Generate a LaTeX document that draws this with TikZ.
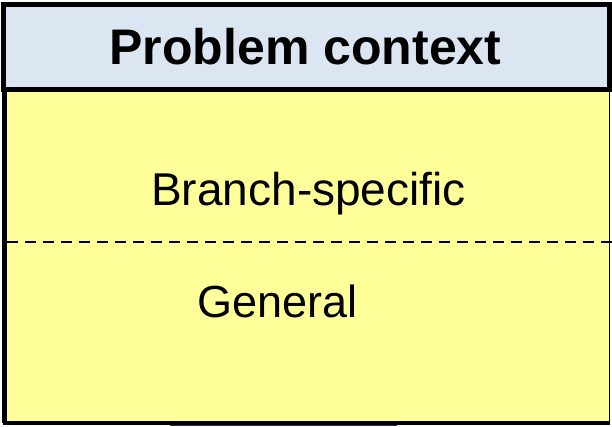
\documentclass[tikz,border=0pt]{standalone}
\usepackage{fontspec}
\setmainfont{Liberation Sans}
\begin{document}
\begin{tikzpicture}[x=1pt,y=1pt,yscale=-1,xscale=1]
\useasboundingbox (0,0) rectangle (612,426);

%Shape: Polygon [id:bottomshade]
\fill [color={rgb, 255:red, 58; green, 40; blue, 70 }] (170,423) -- (397,423) -- (397,426) -- (170,426) -- cycle ;
\fill [color={rgb, 255:red, 58; green, 40; blue, 70 }] (213,419) -- (350,419) -- (350,426) -- (213,426) -- cycle ;
%Shape: Rectangle [id:body]
\fill [color={rgb, 255:red, 255; green, 255; blue, 153 }] (4.7,89) rectangle (609.5,421) ;
%Straight Lines [id:bodyleft]
\draw [line width=4.5pt] (4.7,89) -- (4.7,423.2) ;
%Straight Lines [id:bodybottom]
\draw [line width=4.5pt] (2.5,423) -- (609.5,423) ;
%Straight Lines [id:bodyright]
\draw [line width=1.8pt] (609.5,89) -- (609.5,423) ;
%Straight Lines [id:divider]
\draw [line width=2.4pt, dash pattern={on 11pt off 7pt}] (7,242) -- (612,242) ;
%Shape: Rectangle [id:head]
\draw [line width=5pt, fill={rgb, 255:red, 220; green, 230; blue, 242 }] (3,4.5) rectangle (609.5,89) ;

% Text Node
\node (title) [anchor=base, inner sep=0pt, font=\fontsize{50}{56}\selectfont\bfseries] at (305.5,64) {Problem context};
% Text Node
\node (branch) [anchor=base, inner sep=0pt, font=\fontsize{46}{52}\selectfont] at (308.5,205) {Branch-specific};
% Text Node
\node (general) [anchor=base, inner sep=0pt, font=\fontsize{45}{52}\selectfont] at (277.5,317) {General};

\end{tikzpicture}
\end{document}
